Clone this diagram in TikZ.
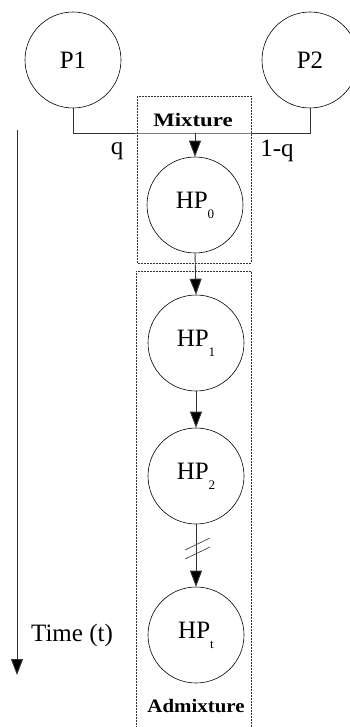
\documentclass[tikz,border=0pt]{standalone}
\usepackage{fontspec}
\setmainfont{Liberation Serif}
\usetikzlibrary{arrows.meta}
\newcommand{\hpsub}[1]{HP\raisebox{-0.4em}{\fontsize{13}{13}\selectfont #1}}
\begin{document}
\begin{tikzpicture}[x=1pt,y=-1pt,
  pop/.style={draw=black, line width=0.6pt, circle, minimum size=96pt, inner sep=0pt,
              font=\fontsize{25}{27}\selectfont},
  link/.style={draw=black!80, line width=0.9pt},
  flow/.style={link, -{Triangle[length=16pt,width=12pt,fill=black]}},
  region/.style={draw=black!80, line width=0.6pt, dash pattern=on 2pt off 1pt},
  tag/.style={font=\fontsize{25}{27}\selectfont, inner sep=0pt},
  boxtitle/.style={font=\bfseries\fontsize{19}{21}\selectfont, inner sep=0pt}]
\useasboundingbox (0,0) rectangle (350,727);

% enclosing regions
\draw[region] (137,96) rectangle (251,263);
\draw[region] (136,740) -- (136,271) -- (251,271) -- (251,740);

% source populations
\node[pop] (P1) at (73,60) {P1};
\node[pop] (P2) at (310,60) {P2};

% hybrid population through time
\node[pop] (HP0) at (195,205) {\hpsub{0}};
\node[pop] (HP1) at (196,343) {\hpsub{1}};
\node[pop] (HP2) at (196,476) {\hpsub{2}};
\node[pop] (HPt) at (196,635) {\hpsub{t}};

% mixing of the two sources
\coordinate (mix) at (195,133);
\draw[link] (P1.south) |- (mix) -| (P2.south);
\draw[flow] (mix) -- (HP0.north);
\node[tag] (q) at (117,151) {q};
\node[tag] (oneq) at (277,151) {1-q};
\node[boxtitle] (mixlabel) at (193,120) {\scalebox{1.2}[1]{Mixture}};

% generations
\draw[flow] (HP0.south) -- (HP1.north);
\draw[flow] (HP1.south) -- (HP2.north);
\draw[flow] (HP2.south) -- (HPt.north);
\draw[link, line width=0.6pt] (185,550) -- (210,538);
\draw[link, line width=0.6pt] (185,559) -- (210,547);
\node[boxtitle] (admixlabel) at (196,706) {\scalebox{1.1}[1]{Admixture}};

% time axis
\coordinate (ttop) at (17,130);
\coordinate (tend) at (17,675);
\draw[flow] (ttop) -- (tend);
\node[tag] (time) at (72,635) {Time (t)};
\end{tikzpicture}
\end{document}
